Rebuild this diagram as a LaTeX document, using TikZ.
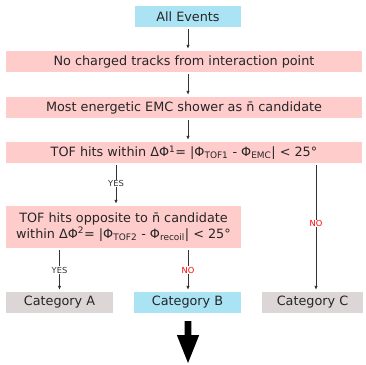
\documentclass[tikz,border=0pt]{standalone}
\usepackage{fontspec}
\setmainfont{DejaVu Sans}
\usetikzlibrary{arrows.meta}
\definecolor{pinkbox}{HTML}{FFCCCC}
\definecolor{bluebox}{HTML}{AAE4F4}
\definecolor{graybox}{HTML}{DCD6D6}
\definecolor{nored}{HTML}{FF0000}
\begin{document}
\begin{tikzpicture}[x=1pt,y=-1pt,
  box/.style={rectangle, inner sep=0pt, font=\fontsize{12.8}{15.5}\selectfont, text=black!85},
  pinkb/.style={box, fill=pinkbox},
  blueb/.style={box, fill=bluebox},
  grayb/.style={box, fill=graybox},
  arr/.style={draw=black!80, line width=0.8pt, -{Latex[length=4pt,width=3.5pt]}, shorten <=2pt, shorten >=2pt},
  lab/.style={fill=white, inner sep=0.5pt, font=\fontsize{8.3}{9}\selectfont, text=black!80}]
\useasboundingbox (0,0) rectangle (366,364);
\node[blueb, minimum width=106pt, minimum height=21pt] (ae) at (188,16.5) {All Events};
\node[pinkb, minimum width=356pt, minimum height=21pt] (r2) at (184,61.5) {No charged tracks from interaction point};
\node[pinkb, minimum width=356pt, minimum height=21pt] (r3) at (184,107.5) {Most energetic EMC shower as n̄ candidate};
\node[pinkb, minimum width=356pt, minimum height=21pt] (r4) at (184,152.5) {TOF hits within ΔΦ\textsuperscript{1}= |Φ\textsubscript{TOF1} - Φ\textsubscript{EMC}| < 25°};
\node[pinkb, minimum width=235pt, minimum height=42pt, align=center] (r5) at (123.5,227) {TOF hits opposite to n̄ candidate\\within ΔΦ\textsuperscript{2}= |Φ\textsubscript{TOF2} - Φ\textsubscript{recoil}| < 25°};
\node[grayb, minimum width=107pt, minimum height=21pt] (ca) at (59.5,302.5) {Category A};
\node[blueb, minimum width=107pt, minimum height=21pt] (cb) at (187.5,302.5) {Category B};
\node[grayb, minimum width=101pt, minimum height=21pt] (cc) at (312.5,302.5) {Category C};
\coordinate (xc) at (188,0);
\coordinate (xyes) at (116,0);
\coordinate (xno) at (316,0);
\draw[arr] (ae.south) -- (r2.north -| ae.south);
\draw[arr] (r2.south -| xc) -- (r3.north -| xc);
\draw[arr] (r3.south -| xc) -- (r4.north -| xc);
\draw[arr] (r4.south -| xyes) -- node[lab, pos=0.47] {YES} (r5.north -| xyes);
\draw[arr] (r4.south -| xno) -- node[lab, text=nored, pos=0.47] {NO} (cc.north -| xno);
\draw[arr] (r5.south -| ca.north) -- node[lab] {YES} (ca.north);
\draw[arr] (r5.south -| xc) -- node[lab, text=nored] {NO} (cc.north -| xc);
\coordinate (bt) at (188,321);
\coordinate (bh) at (188,363);
\fill[black] ([xshift=-3.4pt]bt) -- ([xshift=3.4pt]bt) -- ([xshift=3.4pt,yshift=-14pt]bt) -- ([xshift=11.2pt,yshift=-14pt]bt) -- (bh) -- ([xshift=-11.2pt,yshift=-14pt]bt) -- ([xshift=-3.4pt,yshift=-14pt]bt) -- cycle;
\end{tikzpicture}
\end{document}
